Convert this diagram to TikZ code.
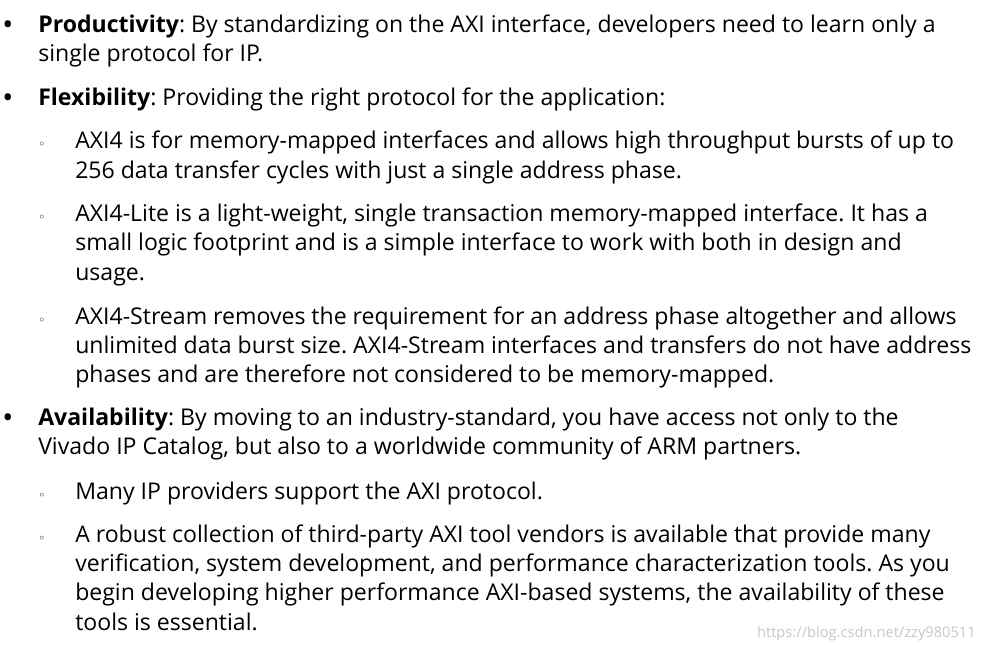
\documentclass[tikz,border=0pt]{standalone}
\usepackage{fontspec}
\setmainfont{Open Sans}
\newfontfamily\symf{DejaVu Sans}
\frenchspacing
\begin{document}
\begin{tikzpicture}[x=0.75pt,y=-0.75pt,
  ln/.style={anchor=base west,inner sep=0pt,font=\fontsize{17.3}{20}\selectfont},
  b1/.style={anchor=base,inner sep=0pt,font=\fontsize{17}{20}\selectfont\bfseries},
  b2/.style={anchor=base,inner sep=0pt,font=\symf\fontsize{9}{10}\selectfont}]
\useasboundingbox (0,0) rectangle (983,650);
\def\B#1#2{\node[b1] (b#1) at (8,#2) {•};}
\def\S#1#2{\node[b2] (s#1) at (42,#2) {◦};}
\B{1}{32}\node[ln] (l1) at (38,32) {\textbf{Productivity}: By standardizing on the AXI interface, developers need to learn only a};
\node[ln] (l2) at (38,61) {single protocol for IP.};
\B{2}{105}\node[ln] (l3) at (38,105) {\textbf{Flexibility}: Providing the right protocol for the application:};
\S{1}{148}\node[ln] (l4) at (75,148) {AXI4 is for memory-mapped interfaces and allows high throughput bursts of up to};
\node[ln] (l5) at (75,178) {256 data transfer cycles with just a single address phase.};
\S{2}{221}\node[ln] (l6) at (75,221) {AXI4-Lite is a light-weight, single transaction memory-mapped interface. It has a};
\node[ln] (l7) at (75,250) {small logic footprint and is a simple interface to work with both in design and};
\node[ln] (l8) at (75,280) {usage.};
\S{3}{324}\node[ln] (l9) at (75,324) {AXI4-Stream removes the requirement for an address phase altogether and allows};
\node[ln] (l10) at (75,353) {unlimited data burst size. AXI4-Stream interfaces and transfers do not have address};
\node[ln] (l11) at (75,382) {phases and are therefore not considered to be memory-mapped.};
\B{3}{425}\node[ln] (l12) at (38,425) {\textbf{Availability}: By moving to an industry-standard, you have access not only to the};
\node[ln] (l13) at (38,454) {Vivado IP Catalog, but also to a worldwide community of ARM partners.};
\S{4}{499}\node[ln] (l14) at (75,499) {Many IP providers support the AXI protocol.};
\S{5}{542}\node[ln] (l15) at (75,542) {A robust collection of third-party AXI tool vendors is available that provide many};
\node[ln] (l16) at (75,571) {verification, system development, and performance characterization tools. As you};
\node[ln] (l17) at (75,600) {begin developing higher performance AXI-based systems, the availability of these};
\node[ln] (l18) at (75,630) {tools is essential.};
\node[anchor=base east,inner sep=0pt,text=black!22,font=\fontsize{11}{12}\selectfont] (wm) at (976,637) {https://blog.csdn.net/zzy980511};
\end{tikzpicture}
\end{document}
